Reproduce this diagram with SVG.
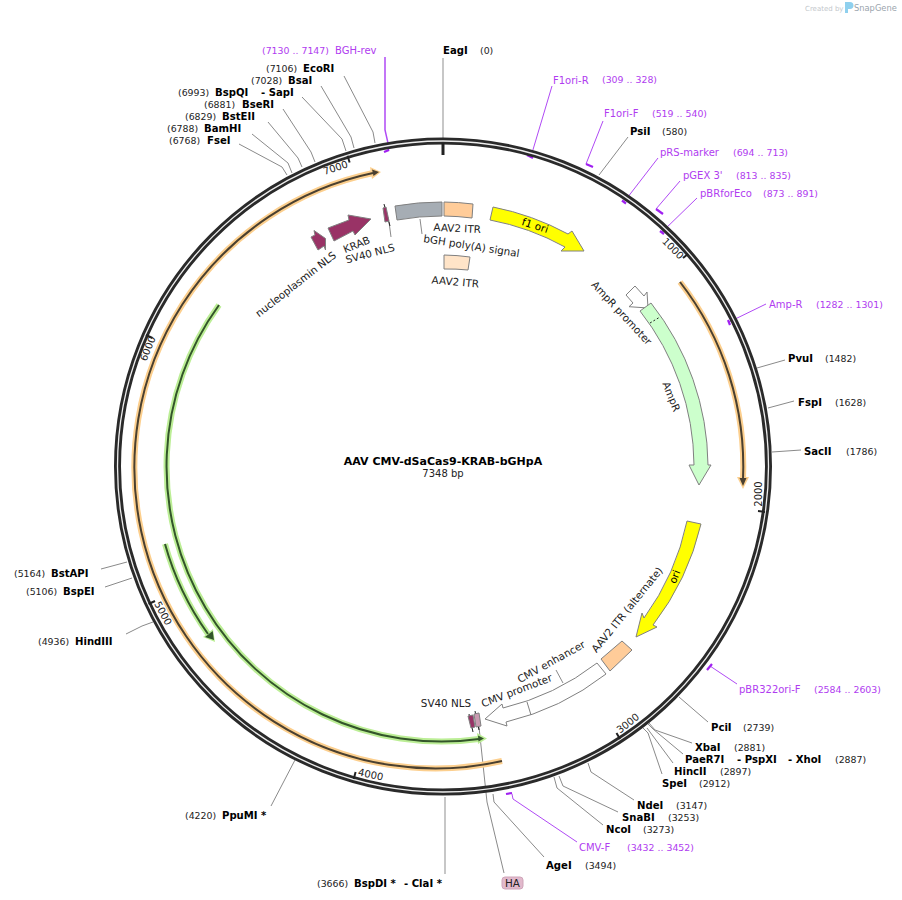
<svg xmlns="http://www.w3.org/2000/svg" width="902" height="900" viewBox="0 0 902 900">
<style>
text{font-family:"DejaVu Sans","Liberation Sans",sans-serif;font-size:10.4px;fill:#222}
.n{font-weight:bold;font-size:10.1px;fill:#000}
.c{font-size:9.4px;fill:#222}
.p{font-size:10px;fill:#b03cf0}
.pc{font-size:9.4px;fill:#b03cf0}
.m{text-anchor:middle}
.l{fill:none;stroke:#8a8a8a;stroke-width:1}
.lg{fill:none;stroke:#b5b5b5;stroke-width:1.5}
.lp{fill:none;stroke:#b04af5;stroke-width:1}
.lpt{fill:none;stroke:#a020f0;stroke-width:2.200}
.f{stroke:#808080;stroke-width:1}
.k{stroke:#222;stroke-width:1.6;fill:none}
.oh{fill:none;stroke:#fccf8e;stroke-width:6}
.oc{fill:none;stroke:#4a4030;stroke-width:2}
.gh{fill:none;stroke:#bcee96;stroke-width:6}
.gc{fill:none;stroke:#33552a;stroke-width:2}
</style>

<g id="logo">
<text x="805" y="10.500" style="font-size:7px;fill:#c4c8cc">Created by</text>
<path d="M845 2h5a3 3 0 0 1 0 7h-2v4h-3z" fill="#8fd0ee"/>
<text x="854" y="10.500" style="font-size:8.300px;fill:#9aa5ad">SnapGene</text>
</g>

<g id="connectors">
<path class="lg" d="M443 58V138"/>
<path class="lg" d="M445 797V874"/>
<path class="l" d="M628 137L599 175"/>
<path class="l" d="M785 360L757 368"/>
<path class="l" d="M794 401L768 408"/>
<path class="l" d="M801 450L772 452"/>
<path class="l" d="M708 722L679 697"/>
<path class="l" d="M692 743L655 730L649 723"/>
<path class="l" d="M683 754L653 729L648 724"/>
<path class="l" d="M673 763L647 728"/>
<path class="l" d="M662 774L648 733L643 728"/>
<path class="l" d="M634 800L591 772L588 763"/>
<path class="l" d="M618 812L563 786L559 776"/>
<path class="l" d="M603 825L557 788L554 777"/>
<path class="l" d="M544 857L494 802L493 794"/>
<path class="l" d="M504 873L487 802L479 727"/>
<path class="l" d="M271 806L295 760"/>
<path class="l" d="M126 634L142 626L153 622"/>
<path class="l" d="M105 587L132 578"/>
<path class="l" d="M101 569L127 562"/>
<path class="l" d="M239 144L282 167L287 175"/>
<path class="l" d="M252 134L288 163L292 173"/>
<path class="l" d="M268 122L298 158L302 167"/>
<path class="l" d="M283 109L311 152L315 162"/>
<path class="l" d="M302 97L342 139L346 151"/>
<path class="l" d="M321 86L351 137L354 148"/>
<path class="l" d="M344 76L373 132L375 143"/>
<path class="l" d="M420 219L422 234"/>
<path class="l" d="M556 670L563 683"/>
<path class="l" d="M389 222L391 237"/>
<path class="lp" style="stroke-width:1.5" d="M385 57V130L388 143L388.500 151"/>
<path class="lpt" d="M384 152L389 150"/>
<path class="lp" d="M552 86L532 153"/>
<path class="lpt" d="M527 155L533 158"/>
<path class="lp" d="M603 121L586 164"/>
<path class="lpt" d="M586 164L593 167"/>
<path class="lp" d="M658 158L624 202"/>
<path class="lpt" d="M622 200.500L626 203.500"/>
<path class="lp" d="M680 181L656 209"/>
<path class="lpt" d="M656 209L663 214"/>
<path class="lp" d="M697 198L662 232"/>
<path class="lpt" d="M660 231L664 234"/>
<path class="lp" d="M766 304L729 322"/>
<path class="lpt" d="M728 320L730 325"/>
<path class="lp" d="M737 684L710 666"/>
<path class="lpt" d="M707 670L712 664"/>
<path class="lp" d="M577 842L513 799L512 794"/>
<path class="lpt" d="M506 794L512 793"/>
</g>

<g id="backbone">
<circle cx="443" cy="466.500" r="325.500" fill="none" stroke="#2a2a2a" stroke-width="7"/>
<circle cx="443" cy="466.500" r="325.500" fill="none" stroke="#eee" stroke-width="1.300"/>
<path stroke="#222" stroke-width="3" d="M443 143V155"/>
<g stroke="#222" stroke-width="2">
<path d="M683 258L688 254"/>
<path d="M758 511L765 512"/>
<path d="M616.500 733L620 739"/>
<path d="M355.600 772L353.700 779"/>
<path d="M155 601L148.600 604"/>
<path d="M152.400 338L146 335"/>
<path d="M349.600 162.500L347.600 155.800"/>
</g>
<text class="m" transform="translate(336.500 171) rotate(-18)" style="font-size:10px">7000</text>
<text class="m" transform="translate(670.500 251) rotate(45)" style="font-size:10px">1000</text>
<text class="m" transform="translate(761.500 494) rotate(-90)" style="font-size:10px">2000</text>
<text class="m" transform="translate(630 726) rotate(-38)" style="font-size:10px">3000</text>
<text class="m" transform="translate(370 778) rotate(12)" style="font-size:10px">4000</text>
<text class="m" transform="translate(160 615) rotate(62)" style="font-size:10px">5000</text>
<text class="m" transform="translate(151 350) rotate(-68)" style="font-size:10px">6000</text>
</g>

<g id="orf-orange-1">
<path class="oh" d="M680 282A301 301 0 0 1 743 480"/>
<path fill="#fccf8e" d="M737 477L749 477L743 489Z"/>
<path class="oc" d="M680 282A301 301 0 0 1 743 480"/>
<path fill="#4a4030" d="M739.500 478L746.500 478L743 486Z"/>
</g>
<g id="orf-orange-2">
<path class="oh" d="M502 761A301 301 0 1 1 373 173"/>
<path fill="#fccf8e" d="M370 167L372 179L381 172Z"/>
<path class="oc" d="M502 761A301 301 0 1 1 373 173"/>
<path fill="#4a4030" d="M372 169.500L373.500 176L379 172Z"/>
</g>
<g id="orf-green-1">
<path class="gh" d="M219 305A275 275 0 0 0 479 739"/>
<path fill="#bcee96" d="M477 733L478 744L487 738.500Z"/>
<path class="gc" d="M219 305A275 275 0 0 0 479 739"/>
<path fill="#33552a" d="M478 735.500L478.500 741.500L484 738.500Z"/>
</g>
<g id="orf-green-2">
<path class="gh" d="M165 544A288 288 0 0 0 208 634"/>
<path fill="#bcee96" d="M203 637L213 629L215 642Z"/>
<path class="gc" d="M165 544A288 288 0 0 0 208 634"/>
<path fill="#33552a" d="M205 637L212.700 631L214 640Z"/>
</g>

<g id="bgh-polya">
<path class="f" fill="#a6adb4" d="M395 206A266 266 0 0 1 442 202L442 216A252 252 0 0 0 397 220Z"/>
<text class="m" transform="translate(471 249.500) rotate(9)">bGH poly(A) signal</text>
</g>
<g id="aav2-itr-1">
<path class="f" fill="#ffcc99" d="M444 202A266 266 0 0 1 473 204L472 218A252 252 0 0 0 444 216Z"/>
<text class="m" transform="translate(457 232) rotate(3)">AAV2 ITR</text>
</g>
<g id="aav2-itr-2">
<path class="f" fill="#ffe4c8" d="M444 255A213 213 0 0 1 470 257L468 270A199 199 0 0 0 444 269Z"/>
<text class="m" transform="translate(455 285.500) rotate(5)">AAV2 ITR</text>
</g>
<g id="f1-ori">
<path class="f" fill="#ffff00" d="M493 207A265 265 0 0 1 568 234L572 231L584 251L561 251L565 247A252 252 0 0 0 490 220Z"/>
<text class="m" transform="translate(534 229) rotate(18)" style="fill:#000">f1 ori</text>
</g>
<g id="ampr-promoter">
<path class="f" fill="#fff" d="M626 295L635 286L644 296L647 292L648 308L629 306.700L633 303Z"/>
<text class="m" transform="translate(619 315.500) rotate(47)">AmpR promoter</text>
</g>
<g id="ampr">
<path class="f" fill="#ccffcc" d="M640 311L651 303A266 266 0 0 1 708 465L711 465L699 485L689 465L694 465A252 252 0 0 0 640 311Z"/>
<path stroke="#222" stroke-dasharray="2 2" d="M650 323L660 317"/>
<text class="m" transform="translate(668 398) rotate(68)">AmpR</text>
</g>
<g id="ori">
<path class="f" fill="#ffff00" d="M687 521L701 524A264 264 0 0 1 653 625L657 627L636 637L642 613L644 618A251 251 0 0 0 687 521Z"/>
<text class="m" transform="translate(678 578) rotate(-68)" style="fill:#000">ori</text>
</g>
<g id="aav2-itr-alternate">
<path class="f" fill="#ffcc99" d="M601 659L622 641L632 650L610 671Z"/>
<text class="m" transform="translate(630 612) rotate(-51)">AAV2 ITR (alternate)</text>
</g>
<g id="cmv-enhancer-promoter">
<path class="f" fill="#fff" d="M597 663L606 674A262 262 0 0 1 506 722L507 726L485 719L502 704L503 708A248 248 0 0 0 597 663Z"/>
<path class="f" fill="none" d="M527 702L531 715"/>
<text class="m" transform="translate(553 665) rotate(-29)">CMV enhancer</text>
<text class="m" transform="translate(518 694) rotate(-21)">CMV promoter</text>
</g>
<g id="sv40-nls-bottom">
<path stroke="#222" d="M469 714L473 732M475 711L479 730"/>
<path class="f" fill="#993366" d="M468 716L473 715L475 727L471 728Z"/>
<path class="f" fill="#c99ab0" d="M474 714L479 713L481 726L476 727Z"/>
<text class="m" x="446" y="707">SV40 NLS</text>
</g>
<g id="nucleoplasmin-nls">
<path class="f" fill="#993366" d="M311 237L318 250L324 246L325.500 250L325.500 238.500L314 230.500L315 235Z"/>
<text class="m" transform="translate(298 287) rotate(-38)">nucleoplasmin NLS</text>
</g>
<g id="krab">
<path class="f" fill="#993366" d="M328 228L334 241L353 231L355 235L371 219L348 215L349 220Z"/>
<text class="m" transform="translate(358 248) rotate(-22)">KRAB</text>
</g>
<g id="sv40-nls-top">
<path stroke="#222" d="M384 204L390 226"/>
<path class="f" fill="#993366" d="M383 208L386 207L389 221L385 222Z"/>
<text class="m" transform="translate(371 257) rotate(-15)">SV40 NLS</text>
</g>
<g id="ha">
<rect x="502" y="877" width="21" height="12" rx="3" fill="#e2b9cc" stroke="#cfa5b9"/>
<text class="m" x="512.500" y="887">HA</text>
</g>

<g id="title">
<text class="m" x="443" y="465" style="font-weight:bold;font-size:11px;fill:#000">AAV CMV-dSaCas9-KRAB-bGHpA</text>
<text class="m" x="443" y="477" style="font-size:10px">7348 bp</text>
</g>

<g id="site-bgh-rev"><text class="pc" x="262" y="54">(7130 .. 7147)</text><text class="p" x="335" y="54">BGH-rev</text></g>
<g id="site-eagi"><text class="n" x="443" y="54">EagI</text><text class="c" x="480" y="54">(0)</text></g>
<g id="site-ecori"><text class="c" x="266" y="72">(7106)</text><text class="n" x="303" y="72">EcoRI</text></g>
<g id="site-bsai"><text class="c" x="251" y="84">(7028)</text><text class="n" x="288" y="84">BsaI</text></g>
<g id="site-bspqi"><text class="c" x="178" y="96">(6993)</text><text class="n" x="215" y="96">BspQI</text><text class="n" x="261" y="96">- SapI</text></g>
<g id="site-beri"><text class="c" x="204" y="108">(6881)</text><text class="n" x="242" y="108">BseRI</text></g>
<g id="site-bsteii"><text class="c" x="185" y="120">(6829)</text><text class="n" x="222" y="120">BstEII</text></g>
<g id="site-bamhi"><text class="c" x="167" y="132">(6788)</text><text class="n" x="204" y="132">BamHI</text></g>
<g id="site-fsei"><text class="c" x="169" y="144">(6768)</text><text class="n" x="207" y="144">FseI</text></g>
<g id="site-f1ori-r"><text class="p" x="553" y="84">F1ori-R</text><text class="pc" x="602" y="83">(309 .. 328)</text></g>
<g id="site-f1ori-f"><text class="p" x="604" y="117">F1ori-F</text><text class="pc" x="652" y="117">(519 .. 540)</text></g>
<g id="site-psii"><text class="n" x="630" y="135">PsiI</text><text class="c" x="662" y="135">(580)</text></g>
<g id="site-prs"><text class="p" x="660" y="156">pRS-marker</text><text class="pc" x="733" y="156">(694 .. 713)</text></g>
<g id="site-pgex"><text class="p" x="683" y="179">pGEX 3'</text><text class="pc" x="736" y="179">(813 .. 835)</text></g>
<g id="site-pbrforeco"><text class="p" x="700" y="197">pBRforEco</text><text class="pc" x="763" y="197">(873 .. 891)</text></g>
<g id="site-amp-r"><text class="p" x="769" y="308">Amp-R</text><text class="pc" x="816" y="308">(1282 .. 1301)</text></g>
<g id="site-pvui"><text class="n" x="788" y="362">PvuI</text><text class="c" x="825" y="362">(1482)</text></g>
<g id="site-fspi"><text class="n" x="798" y="406">FspI</text><text class="c" x="835" y="406">(1628)</text></g>
<g id="site-sacii"><text class="n" x="804" y="455">SacII</text><text class="c" x="846" y="455">(1786)</text></g>
<g id="site-pbr322"><text class="p" x="739" y="693">pBR322ori-F</text><text class="pc" x="814" y="693">(2584 .. 2603)</text></g>
<g id="site-pcii"><text class="n" x="711" y="731">PciI</text><text class="c" x="743" y="731">(2739)</text></g>
<g id="site-xbai"><text class="n" x="695" y="751">XbaI</text><text class="c" x="734" y="751">(2881)</text></g>
<g id="site-paer7i"><text class="n" x="685" y="763">PaeR7I</text><text class="n" x="737" y="763">- PspXI</text><text class="n" x="788" y="763">- XhoI</text><text class="c" x="835" y="763">(2887)</text></g>
<g id="site-hincii"><text class="n" x="674" y="775">HincII</text><text class="c" x="720" y="775">(2897)</text></g>
<g id="site-spei"><text class="n" x="662" y="787">SpeI</text><text class="c" x="699" y="787">(2912)</text></g>
<g id="site-ndei"><text class="n" x="637" y="809">NdeI</text><text class="c" x="676" y="809">(3147)</text></g>
<g id="site-snabi"><text class="n" x="622" y="821">SnaBI</text><text class="c" x="668" y="821">(3253)</text></g>
<g id="site-ncoi"><text class="n" x="606" y="833">NcoI</text><text class="c" x="643" y="833">(3273)</text></g>
<g id="site-cmv-f"><text class="p" x="579" y="851">CMV-F</text><text class="pc" x="627" y="851">(3432 .. 3452)</text></g>
<g id="site-agei"><text class="n" x="546" y="869">AgeI</text><text class="c" x="585" y="869">(3494)</text></g>
<g id="site-bspdi"><text class="c" x="317" y="887">(3666)</text><text class="n" x="354" y="887">BspDI *</text><text class="n" x="404" y="887">- ClaI *</text></g>
<g id="site-ppumi"><text class="c" x="185" y="819">(4220)</text><text class="n" x="222" y="819">PpuMI *</text></g>
<g id="site-hindiii"><text class="c" x="38" y="645">(4936)</text><text class="n" x="75" y="645">HindIII</text></g>
<g id="site-bspei"><text class="c" x="26" y="595">(5106)</text><text class="n" x="63" y="595">BspEI</text></g>
<g id="site-bstapi"><text class="c" x="14" y="577">(5164)</text><text class="n" x="51" y="577">BstAPI</text></g>
</svg>
